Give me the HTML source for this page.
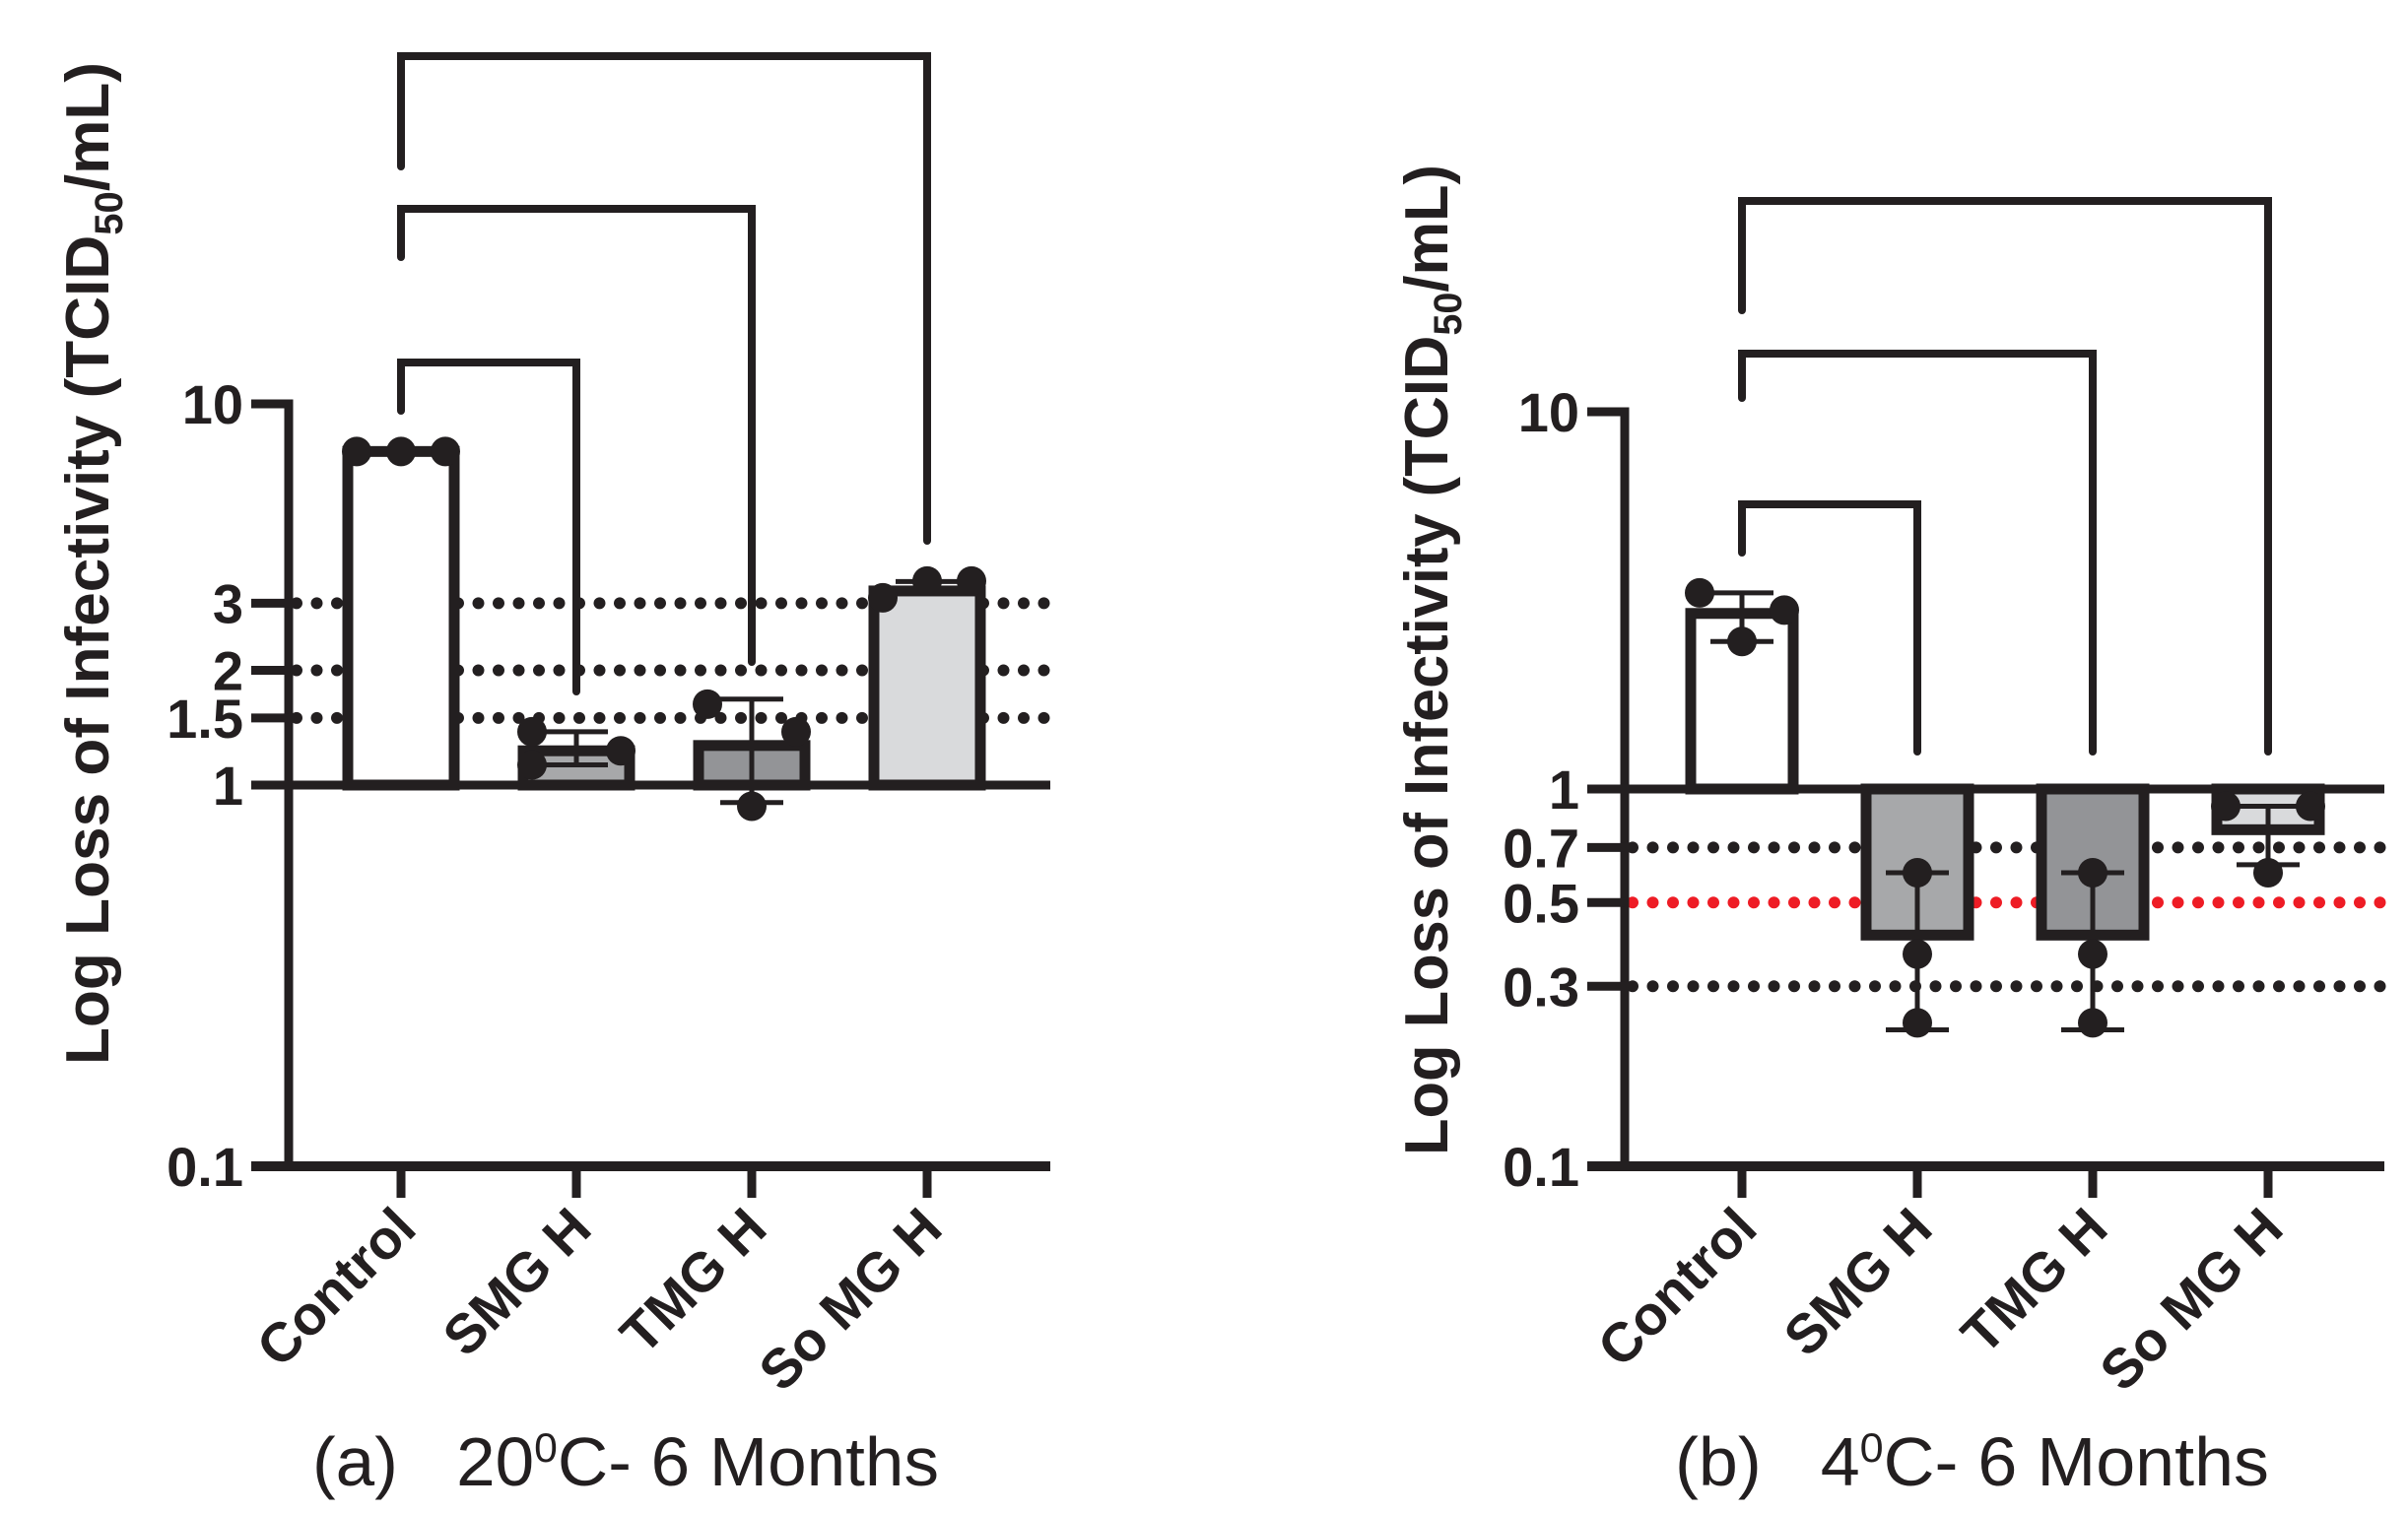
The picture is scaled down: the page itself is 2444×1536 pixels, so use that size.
<!DOCTYPE html>
<html><head><meta charset="utf-8">
<style>
html,body{margin:0;padding:0;background:#fff;}
svg{display:block;}
text{font-family:"Liberation Sans",Arial,sans-serif;fill:#231f20;}
</style></head>
<body>
<svg id="fig" width="2444" height="1536" viewBox="0 0 2444 1536" xmlns="http://www.w3.org/2000/svg"></svg>
<script>
// ---- data ----
const categories = ["Control", "SMG  H", "TMG H", "So MG H"];
// Panel A: 20C - 6 months
const barsA = [7.5, 1.23, 1.27, 3.23];
const ptsA1 = [7.5, 1.38, 1.63, 3.1];
const ptsA2 = [7.5, 1.13, 1.38, 3.43];
const ptsA3 = [7.5, 1.23, 0.88, 3.43];
const errLoA = [7.5, 1.13, 0.9, 3.2];
const errHiA = [7.5, 1.38, 1.68, 3.42];
const refLinesA = [3, 2, 1.5];
const refColorsA = ["#231f20", "#231f20", "#231f20"];
const ticksA = [10, 3, 2, 1.5, 1, 0.1];
const tickLabelsA = ["10", "3", "2", "1.5", "1", "0.1"];
// Panel B: 4C - 6 months
const barsB = [2.92, 0.41, 0.41, 0.78];
const ptsB1 = [3.31, 0.6, 0.6, 0.9];
const ptsB2 = [2.98, 0.365, 0.365, 0.9];
const ptsB3 = [2.46, 0.24, 0.24, 0.6];
const errLoB = [2.46, 0.23, 0.23, 0.63];
const errHiB = [3.31, 0.6, 0.6, 0.9];
const refLinesB = [0.7, 0.5, 0.3];
const refColorsB = ["#231f20", "#ee1c25", "#231f20"];
const ticksB = [10, 1, 0.7, 0.5, 0.3, 0.1];
const tickLabelsB = ["10", "1", "0.7", "0.5", "0.3", "0.1"];
const fills = ["#ffffff", "#a7a8aa", "#939497", "#d9dadc"];
// jitter slot (-1 left, 0 centre, 1 right) of each replicate point per category
const jitA = [[-1, -1, -1, -1], [0, -1, 1, 0], [1, 1, 0, 1]];
const jitB = [[-1, 0, 0, -1], [1, 0, 0, 1], [0, 0, 0, 0]];

const NS = "http://www.w3.org/2000/svg";
const svg = document.getElementById("fig");
const C = "#231f20";
function mk(tag, attrs, parent) {
  const e = document.createElementNS(NS, tag);
  for (const k in attrs) e.setAttribute(k, attrs[k]);
  (parent || svg).appendChild(e);
  return e;
}

function panel(cfg) {
  const g = mk("g", {});
  
  
  const y = v => cfg.y1 - Math.log10(v) * cfg.dec;
  const x = i => cfg.x0 + i * cfg.step;
  const yBottom = y(0.1);
  cfg.refs.forEach((r, i) => {
    const l = mk("line", {x1: cfg.axX + 8, x2: cfg.xEnd, y1: y(r), y2: y(r), stroke: cfg.refCols[i], "stroke-width": 12, "stroke-linecap": "round", "stroke-dasharray": "0 20.5"}, g);
    
    
  });
  cfg.bars.forEach((v, i) => {
    const yt = y(v), yb = y(1);
    const top = Math.min(yt, yb), h = Math.abs(yb - yt);
    const r = mk("rect", {x: x(i) - cfg.bw / 2 + 5, y: top, width: cfg.bw - 10, height: Math.max(h, 1), fill: fills[i], stroke: C, "stroke-width": 11}, g);
    
    
  });
  const ax = mk("path", {d: `M${cfg.axX - 38} ${y(10)} H${cfg.axX} V${yBottom}`, stroke: C, "stroke-width": 9, fill: "none"}, g);
  
  
  const xa = mk("line", {x1: cfg.axX - 38, x2: cfg.xEnd, y1: yBottom, y2: yBottom, stroke: C, "stroke-width": 10}, g);
  
  
  const base = mk("line", {x1: cfg.axX - 38, x2: cfg.xEnd, y1: y(1), y2: y(1), stroke: C, "stroke-width": 9}, g);
  
  
  cfg.ticks.forEach((t, i) => {
    const tl = mk("line", {x1: cfg.axX - 38, x2: cfg.axX, y1: y(t), y2: y(t), stroke: C, "stroke-width": 9}, g);
    
    
    const tx = mk("text", {x: cfg.axX - 46, y: y(t) + 20, "text-anchor": "end", "font-size": 56, "font-weight": "bold"}, g);
    tx.textContent = cfg.tickLabels[i];
    
    
  });
  categories.forEach((c, i) => {
    const tk = mk("line", {x1: x(i), x2: x(i), y1: yBottom, y2: yBottom + 32, stroke: C, "stroke-width": 9}, g);
    
    
    const lx = x(i) + 18, ly = yBottom + 66;
    const tx = mk("text", {x: lx, y: ly, "text-anchor": "end", "font-size": 56, "font-weight": "bold", transform: `rotate(-45 ${lx} ${ly})`}, g);
    tx.textContent = c;
    
    
  });
  cfg.bars.forEach((v, i) => {
    const lo = y(cfg.errLo[i]), hi = y(cfg.errHi[i]);
    if (Math.abs(lo - hi) > 1) {
      const e = mk("path", {d: `M${x(i)} ${hi} V${lo} M${x(i) - 32} ${hi} H${x(i) + 32} M${x(i) - 32} ${lo} H${x(i) + 32}`, stroke: C, "stroke-width": 5, fill: "none"}, g);
      
      
    }
    cfg.pts.forEach((arr, k) => {
      const dx = cfg.jit[k][i] * (cfg.bw / 2 - 14);
      const p = mk("ellipse", {cx: x(i) + dx, cy: y(arr[i]), rx: 15, ry: 15, fill: C}, g);
      
      
    });
  });
  cfg.brackets.forEach((b, k) => {
    const p = mk("path", {d: `M${x(0)} ${b[1]} V${b[0]} H${x(k + 1)} V${b[2]}`, stroke: C, "stroke-width": 8, fill: "none", "stroke-linecap": "round"}, g);
    
    
  });
  const yt = mk("text", {x: cfg.ytX, y: cfg.ytY, "text-anchor": "middle", "font-size": 62, "font-weight": "bold", transform: `rotate(-90 ${cfg.ytX} ${cfg.ytY})`, textLength: cfg.ytLen, lengthAdjust: "spacingAndGlyphs"}, g);
  yt.innerHTML = 'Log Loss of Infectivity (TCID<tspan font-size="40" dy="14">50</tspan><tspan dy="-14">/mL)</tspan>';
  
  
  const cap = mk("text", {x: cfg.capX, y: 1508, "font-size": 70, textLength: cfg.capLen, lengthAdjust: "spacingAndGlyphs"}, g);
  cap.innerHTML = cfg.caption;
  
  
}

panel({name: "panel-a", y1: 797, dec: 387, x0: 407, step: 178, axX: 293, xEnd: 1066, bw: 118,
  bars: barsA, pts: [ptsA1, ptsA2, ptsA3], errLo: errLoA, errHi: errHiA, jit: jitA,
  refs: refLinesA, refCols: refColorsA, ticks: ticksA, tickLabels: tickLabelsA,
  brackets: [[368, 417, 702], [212, 261, 672], [57, 169, 549]],
  ytX: 110, ytY: 572, ytLen: 1018, capX: 317, capLen: 636,
  caption: '(a)&#160;&#160; 20<tspan font-size="42" dy="-24">0</tspan><tspan dy="24">C- 6 Months</tspan>'});

panel({name: "panel-b", y1: 801, dec: 383, x0: 1768, step: 178, axX: 1649, xEnd: 2420, bw: 114,
  bars: barsB, pts: [ptsB1, ptsB2, ptsB3], errLo: errLoB, errHi: errHiB, jit: jitB,
  refs: refLinesB, refCols: refColorsB, ticks: ticksB, tickLabels: tickLabelsB,
  brackets: [[512, 561, 763], [359, 404, 763], [204, 315, 763]],
  ytX: 1469, ytY: 670, ytLen: 1006, capX: 1700, capLen: 603,
  caption: '(b)&#160;&#160; 4<tspan font-size="42" dy="-24">0</tspan><tspan dy="24">C- 6 Months</tspan>'});
</script>
</body></html>
